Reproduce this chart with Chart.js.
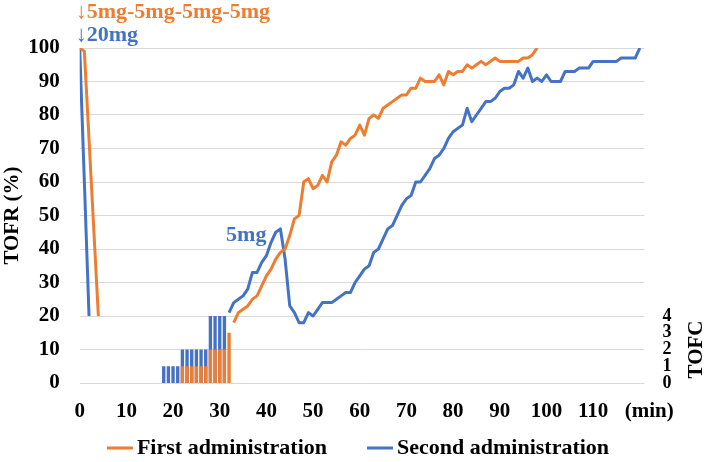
<!DOCTYPE html>
<html>
<head>
<meta charset="utf-8">
<script src="https://cdn.jsdelivr.net/npm/chart.js@4.4.1/dist/chart.umd.min.js"></script>
<style>
html,body{margin:0;padding:0;background:#fff;}
#wrap{width:708px;height:462px;position:relative;}
</style>
</head>
<body>
<div id="wrap"><canvas id="c"></canvas></div>
<script>
const FONT = "'Liberation Serif', 'Times New Roman', serif";
const ORANGE = '#ED7D31';
const BLUE = '#4472C4';

// ---- labels ----
const seriesNames = ['First administration', 'Second administration'];
const xTickValues = [0, 10, 20, 30, 40, 50, 60, 70, 80, 90, 100, 110];
const xUnitLabel = '(min)';
const yTitle = 'TOFR (%)';
const tofcTitle = 'TOFC';
const tofcTickValues = [0, 1, 2, 3, 4];
const doseFirstLabel = '\u21935mg-5mg-5mg-5mg';
const doseSecondLabel = '\u219320mg';
const doseRepeatLabel = '5mg';

// ---- TOFR lines (minutes / %) ----
const firstEarlyMin = [0, 1, 4];
const firstEarlyTOFR = [100, 99, 20];
const firstLateStartMin = 33;
const firstLateTOFR = [
  18, 21, 22, 23, 25, 26, 29, 32, 34, 37,   // 33-42
  39, 40, 44, 49, 50, 60, 61, 58, 59, 62,   // 43-52
  60, 66, 68, 72, 71, 73, 74, 77, 74, 79,   // 53-62
  80, 79, 82, 83, 84, 85, 86, 86, 88, 88,   // 63-72
  91, 90, 90, 90, 92, 89, 93, 92, 93, 93,   // 73-82
  95, 94, 95, 96, 95, 96, 97, 96, 96, 96,   // 83-92
  96, 96, 97, 97, 98, 100                   // 93-98
];
const secondEarlyMin = [0, 2];
const secondEarlyTOFR = [100, 20];
const secondLateStartMin = 32;
const secondLateTOFR = [
  21, 24, 25, 26, 28, 33, 33, 36, 38, 42,   // 32-41
  45, 46, 37, 23, 21, 18, 18, 21, 20, 22,   // 42-51
  24, 24, 24, 25, 26, 27, 27, 30, 32, 34,   // 52-61
  35, 39, 40, 43, 46, 47, 50, 53, 55, 56,   // 62-71
  60, 60, 62, 64, 67, 68, 70, 73, 75, 76,   // 72-81
  77, 82, 78, 80, 82, 84, 84, 85, 87, 88,   // 82-91
  88, 89, 93, 91, 94, 90, 91, 90, 92, 90,   // 92-101
  90, 90, 93, 93, 93, 94, 94, 94, 96, 96,   // 102-111
  96, 96, 96, 96, 97, 97, 97, 97, 100       // 112-120
];

// ---- TOFC bars ----
const tofcMin = [18, 19, 20, 21, 22, 23, 24, 25, 26, 27, 28, 29, 30, 31, 32];
const tofcFirst = [null, null, null, null, 1, 1, 1, 1, 1, 1, 2, 2, 2, 2, 3];
const tofcSecond = [1, 1, 1, 1, 2, 2, 2, 2, 2, 2, 4, 4, 4, 4, null];

function buildLine(earlyMin, earlyVal, lateStart, lateVal) {
  const pts = earlyMin.map((m, i) => ({x: m, y: earlyVal[i]}));
  pts.push({x: lateStart - 1, y: null});
  lateVal.forEach((v, i) => pts.push({x: lateStart + i, y: v}));
  return pts;
}
function buildBars(vals) {
  return tofcMin.map((m, i) => ({x: m, y: vals[i]}));
}

const tickFont = {family: FONT, size: 21, weight: 'bold'};
const X_PAD = 16.4;

const overlay = {
  id: 'overlay',
  afterDraw(chart) {
    const ctx = chart.ctx;
    const xs = chart.scales.x, ys = chart.scales.y, y2 = chart.scales.y2;
    const ca = chart.chartArea;
    ctx.save();
    ctx.textBaseline = 'middle';
    // dose annotations
    ctx.font = `bold 22px ${FONT}`;
    ctx.textAlign = 'left';
    ctx.fillStyle = ORANGE;
    ctx.fillText(doseFirstLabel, xs.getPixelForValue(0) - 4, ys.getPixelForValue(100) - 36);
    ctx.fillStyle = BLUE;
    ctx.fillText(doseSecondLabel, xs.getPixelForValue(0) - 4, ys.getPixelForValue(100) - 13);
    ctx.textAlign = 'right';
    ctx.fillText(doseRepeatLabel, xs.getPixelForValue(40), ys.getPixelForValue(44));
    // x unit
    ctx.fillStyle = '#000';
    ctx.font = `bold 21px ${FONT}`;
    ctx.textAlign = 'center';
    ctx.fillText(xUnitLabel, xs.getPixelForValue(122), ca.bottom + X_PAD + 12.6);
    // TOFC title
    ctx.save();
    ctx.translate(ca.right + 52, y2.getPixelForValue(2));
    ctx.rotate(-Math.PI / 2);
    ctx.font = `bold 21px ${FONT}`;
    ctx.fillText(tofcTitle, 0, 0);
    ctx.restore();
    // legend
    const lines = chart.data.datasets.filter(d => d.type === 'line');
    ctx.font = `bold 22px ${FONT}`;
    const mark = 26, gapT = 4, gapItem = 40;
    const widths = lines.map(d => mark + gapT + ctx.measureText(d.label).width);
    const total = widths.reduce((a, b) => a + b, 0) + gapItem * (lines.length - 1);
    let x = chart.width / 2 + 4 - total / 2;
    const ly = 448;
    ctx.textAlign = 'left';
    lines.forEach((d, i) => {
      ctx.strokeStyle = d.borderColor;
      ctx.lineWidth = 3;
      ctx.beginPath();
      ctx.moveTo(x, ly);
      ctx.lineTo(x + mark, ly);
      ctx.stroke();
      ctx.fillStyle = '#000';
      ctx.fillText(d.label, x + mark + gapT, ly);
      x += widths[i] + gapItem;
    });
    ctx.restore();
  }
};

new Chart(document.getElementById('c'), {
  type: 'line',
  data: {
    datasets: [
      {type: 'line', label: seriesNames[0], data: buildLine(firstEarlyMin, firstEarlyTOFR, firstLateStartMin, firstLateTOFR),
       borderColor: ORANGE, backgroundColor: ORANGE, borderWidth: 3, pointRadius: 0, tension: 0,
       spanGaps: false, borderJoinStyle: 'round', yAxisID: 'y', order: 0},
      {type: 'line', label: seriesNames[1], data: buildLine(secondEarlyMin, secondEarlyTOFR, secondLateStartMin, secondLateTOFR),
       borderColor: BLUE, backgroundColor: BLUE, borderWidth: 3, pointRadius: 0, tension: 0,
       spanGaps: false, borderJoinStyle: 'round', yAxisID: 'y', order: 1},
      {type: 'bar', label: seriesNames[0] + ' TOFC', data: buildBars(tofcFirst), backgroundColor: ORANGE,
       yAxisID: 'y2', grouped: false, barPercentage: 0.72, categoryPercentage: 1, order: 2},
      {type: 'bar', label: seriesNames[1] + ' TOFC', data: buildBars(tofcSecond), backgroundColor: BLUE,
       yAxisID: 'y2', grouped: false, barPercentage: 0.72, categoryPercentage: 1, order: 3}
    ]
  },
  options: {
    responsive: true,
    maintainAspectRatio: false,
    animation: false,
    layout: {padding: {top: 48, right: 18.5, bottom: 21, left: 0}},
    plugins: {legend: {display: false}, tooltip: {enabled: false}},
    scales: {
      x: {
        type: 'linear', min: 0, max: 121, offset: false,
        grid: {display: false, drawTicks: false},
        border: {display: false},
        afterBuildTicks: s => { s.ticks = xTickValues.map(v => ({value: v})); },
        ticks: {autoSkip: false, maxRotation: 0, padding: X_PAD, color: '#000', font: tickFont}
      },
      y: {
        min: 0, max: 100,
        grid: {color: '#d9d9d9', lineWidth: 1, drawTicks: false},
        border: {display: false},
        ticks: {stepSize: 10, padding: 20, color: '#000', font: tickFont},
        title: {display: true, text: yTitle, color: '#000', font: tickFont, padding: {top: 0, bottom: -17}}
      },
      y2: {
        position: 'right', min: 0, max: 20,
        grid: {display: false, drawTicks: false},
        border: {display: false},
        afterBuildTicks: s => { s.ticks = tofcTickValues.map(v => ({value: v})); },
        ticks: {autoSkip: false, padding: 18, color: '#000', font: {family: FONT, size: 18, weight: 'bold'}}
      }
    }
  },
  plugins: [overlay]
});
</script>
</body>
</html>
